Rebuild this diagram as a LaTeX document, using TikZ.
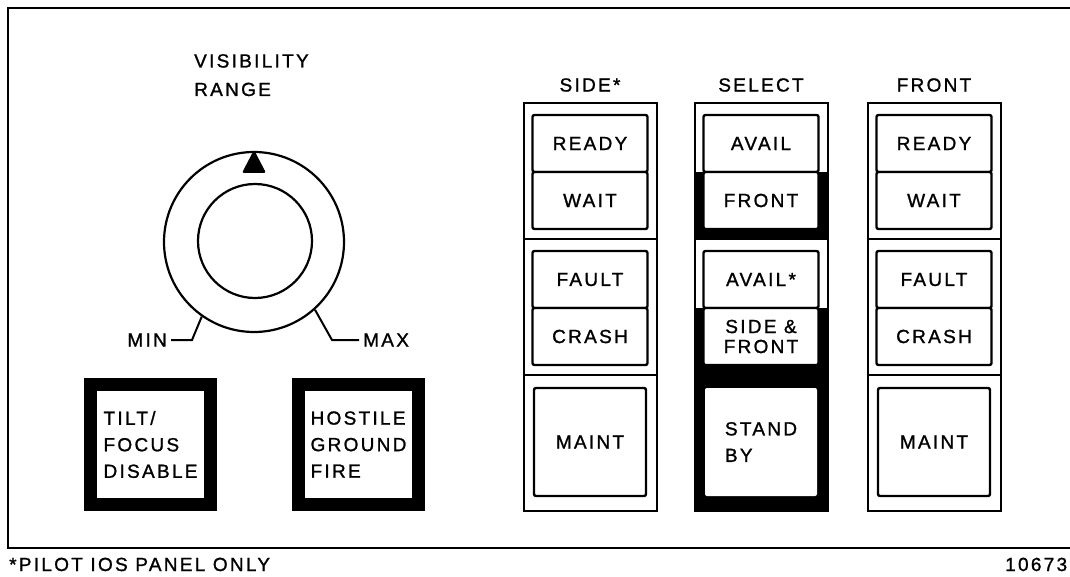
\documentclass[tikz,border=0pt]{standalone}
\usepackage{fontspec}
\setmainfont{Liberation Sans}
\newfontfamily\panelfont{Liberation Sans}[LetterSpace=12,FakeBold=1.2]
\usepackage{tikz}
\usetikzlibrary{positioning}

\begin{document}
\begin{tikzpicture}[x=1pt,y=-1pt,font=\panelfont\fontsize{19}{26.5}\selectfont]
    \tikzstyle{txt}=[inner sep=1pt]
    \tikzstyle{module}=[draw, line width=2pt, minimum width=133pt, minimum height=136pt, inner sep=0pt, outer sep=0pt]
    \tikzstyle{lamp}=[draw, fill=white, line width=2.4pt, rounded corners=2pt, minimum width=115pt, minimum height=57pt, inner sep=0pt, outer sep=0pt, node distance=57pt, on grid]
    \tikzstyle{pushbtn}=[draw, fill=white, line width=2.4pt, rounded corners=2pt, minimum width=112pt, minimum height=108pt, inner sep=0pt, outer sep=0pt]
    \tikzstyle{guarded}=[draw, fill=white, line width=13pt, minimum size=120pt, align=left]
    \tikzstyle{edge}=[line width=2pt]

    \useasboundingbox (0,0) rectangle (1070,577);
    \draw[edge] (1070,8) -- (8,8) -- (8,548) -- (1070,548);

    % visibility range knob
    \node[txt, anchor=north west, align=left] (vislabel) at (193,53) {VISIBILITY\\[2pt]RANGE};
    \node[circle, draw, line width=2.2pt, minimum size=180pt, inner sep=0pt] (knob) at (254,242) {};
    \node[circle, draw, line width=2.2pt, minimum size=114pt, inner sep=0pt] (knobcap) at (255,241) {};
    \fill[rounded corners=2pt] ([yshift=1pt]knob.north) -- ++(12,23) -- ++(-24,0) -- cycle;
    \node[txt, inner sep=4pt, anchor=east] (min) at (171,340) {MIN};
    \node[txt, inner sep=4pt, anchor=west] (max) at (359,340) {MAX};
    \draw[edge] (knob.235) -- ([xshift=21pt]min.east) -- (min.east);
    \draw[edge] (knob.312) -- ([xshift=-27pt]max.west) -- (max.west);

    % guarded push buttons
    \node[guarded] (tilt) at (150.5,444.5) {TILT/\\FOCUS\\DISABLE};
    \node[guarded, right=75pt of tilt] (hostile) {HOSTILE\\GROUND\\FIRE};

    % side column
    \node[txt] (sidehead) at (590,85) {SIDE*};
    \node[module, anchor=north] (side1) at (590,103) {};
    \node[module, below=0pt of side1] (side2) {};
    \node[module, below=0pt of side2] (side3) {};
    \node[lamp, anchor=north] (sideready) at ([yshift=-12pt]side1.north) {READY};
    \node[lamp, below of=sideready] (sidewait) {WAIT};
    \node[lamp, anchor=north] (sidefault) at ([yshift=-12pt]side2.north) {FAULT};
    \node[lamp, below of=sidefault] (sidecrash) {CRASH};
    \node[pushbtn, anchor=north] (sidemaint) at ([yshift=-13pt]side3.north) {MAINT};

    % select column
    \node[txt] (selecthead) at (761,85) {SELECT};
    \node[module, anchor=north] (select1) at (761,103) {};
    \node[module, below=0pt of select1] (select2) {};
    \node[module, below=0pt of select2] (select3) {};
    \fill ([yshift=-69pt]select1.north west) rectangle (select1.south east);
    \fill ([yshift=-69pt]select2.north west) rectangle (select3.south east);
    \node[lamp, anchor=north] (selectavail) at ([yshift=-12pt]select1.north) {AVAIL};
    \node[lamp, below of=selectavail] (selectfront) {FRONT};
    \node[lamp, anchor=north] (selectavailb) at ([yshift=-12pt]select2.north) {AVAIL*};
    \node[lamp, below of=selectavailb, align=center, font=\panelfont\fontsize{19}{20}\selectfont] (selectboth) {SIDE \&\\FRONT};
    \node[pushbtn, draw=none, anchor=north, align=left] (selectstandby) at ([yshift=-13pt]select3.north) {STAND\\BY};

    % front column
    \node[txt] (fronthead) at (934,85) {FRONT};
    \node[module, anchor=north] (front1) at (934,103) {};
    \node[module, below=0pt of front1] (front2) {};
    \node[module, below=0pt of front2] (front3) {};
    \node[lamp, anchor=north] (frontready) at ([yshift=-12pt]front1.north) {READY};
    \node[lamp, below of=frontready] (frontwait) {WAIT};
    \node[lamp, anchor=north] (frontfault) at ([yshift=-12pt]front2.north) {FAULT};
    \node[lamp, below of=frontfault] (frontcrash) {CRASH};
    \node[pushbtn, anchor=north] (frontmaint) at ([yshift=-13pt]front3.north) {MAINT};

    \node[txt, anchor=base west] (footnote) at (8,571) {*PILOT IOS PANEL ONLY};
    \node[txt, anchor=base west] (drawingno) at (1004,571) {10673};
\end{tikzpicture}
\end{document}
